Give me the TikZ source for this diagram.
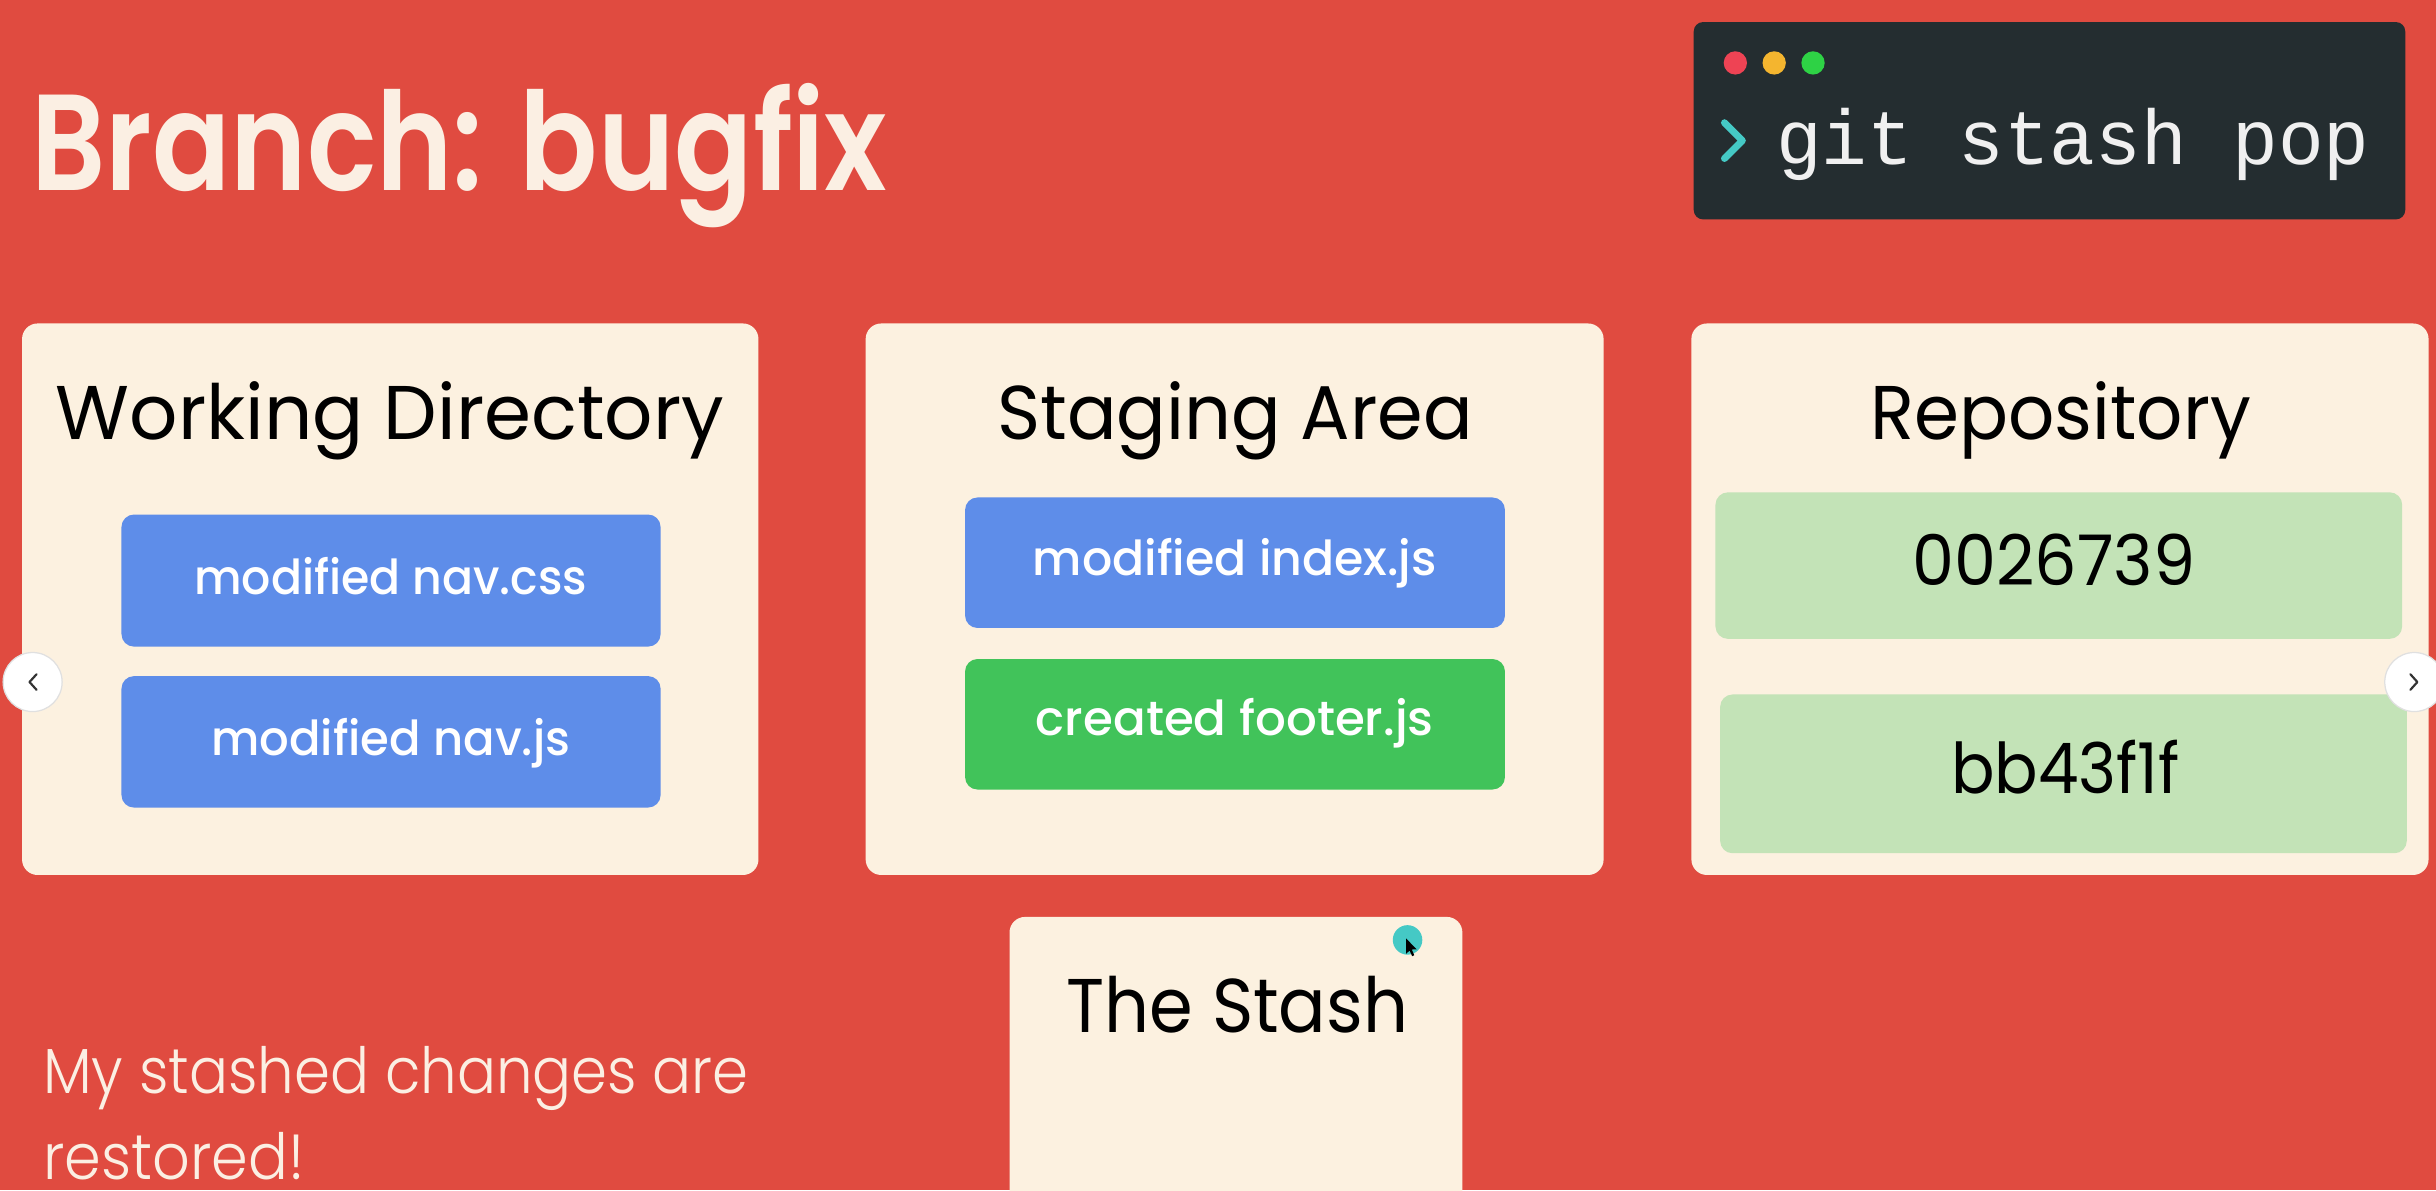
\documentclass[tikz,border=0pt]{standalone}
\usepackage{graphicx}
\usepackage{fontspec}
\setmainfont{Poppins}
\newfontfamily\pmed{Poppins Medium}
\newfontfamily\psemi{Poppins SemiBold}
\newfontfamily\plight{Poppins Light}
\newfontfamily\mono{Liberation Mono}

% squeeze a text horizontally to a given width, keeping its height
\newcommand\fitw[2]{\resizebox{#1}{\height}{#2}}

\definecolor{slidebg}{HTML}{E04B40}
\definecolor{cream}{HTML}{FCF1E0}
\definecolor{lighttext}{HTML}{FBEFE3}
\definecolor{fileblue}{HTML}{5E8DE9}
\definecolor{filegreen}{HTML}{41C35A}
\definecolor{commitgreen}{HTML}{C3E3B7}
\definecolor{termbg}{HTML}{242D30}
\definecolor{dotred}{HTML}{EE4354}
\definecolor{dotyellow}{HTML}{F4B52F}
\definecolor{dotgreen}{HTML}{2ED245}
\definecolor{teal}{HTML}{45C9C5}

\tikzset{
  panel/.style={rectangle, rounded corners=10pt, fill=cream, inner sep=0pt, anchor=north west},
  filebox/.style={rectangle, rounded corners=8pt, inner sep=0pt, anchor=north west},
  paneltitle/.style={anchor=base, inner sep=0pt, text=black, font=\fontsize{49}{58}\selectfont},
  filelabel/.style={anchor=base, inner sep=0pt, text=white, font=\pmed\fontsize{31}{37}\selectfont},
  commitlabel/.style={anchor=base, inner sep=0pt, text=black, font=\fontsize{45}{54}\selectfont},
  navbtn/.style={circle, fill=white, draw=black!12, line width=0.8pt, minimum size=38pt, inner sep=0pt},
  windot/.style={circle, inner sep=0pt, minimum size=15pt},
  notetext/.style={anchor=base west, inner sep=0pt, text=lighttext, font=\plight\fontsize{41}{49}\selectfont}
}

\begin{document}
\begin{tikzpicture}[x=1pt, y=-1pt]
  % slide background
  \fill[slidebg] (0,0) rectangle (1568,766);
  \useasboundingbox (0,0) rectangle (1568,766);
  \clip (0,0) rectangle (1568,766);

  % heading
  \node[anchor=base west, inner sep=0pt, text=lighttext, font=\psemi\fontsize{88}{100}\selectfont]
    (heading) at (20,122.3) {\fitw{551pt}{Branch: bugfix}};

  % terminal window with the command
  \node[rectangle, rounded corners=6pt, fill=termbg, anchor=north west, inner sep=0pt,
        minimum width=458pt, minimum height=127pt] (term) at (1090,14) {};
  \node[windot, fill=dotred]    (d1) at (1117,40.5) {};
  \node[windot, fill=dotyellow] (d2) at (1142,40.5) {};
  \node[windot, fill=dotgreen]  (d3) at (1167,40.5) {};
  \draw[teal, line width=4.5pt, line cap=round, line join=round]
    (1110,79) -- (1121.5,90.5) -- (1110,102);
  \node[anchor=base west, inner sep=0pt, text=white!94!black, font=\mono\fontsize{50}{60}\selectfont]
    (cmd) at (1143,106) {\fitw{382pt}{git stash pop}};

  % the three areas
  \node[panel, minimum width=474pt, minimum height=355pt] (wd) at (14,208) {};
  \node[panel, minimum width=475pt, minimum height=355pt] (sa) at (557,208) {};
  \node[panel, minimum width=474.5pt, minimum height=355pt] (repo) at (1088.5,208) {};

  \node[paneltitle] (wdtitle) at (251,283) {\fitw{430pt}{Working Directory}};
  \node[paneltitle] (satitle) at (795,283) {\fitw{306pt}{Staging Area}};
  \node[paneltitle] (repotitle) at (1326.5,283) {\fitw{245pt}{Repository}};

  % working directory files
  \node[filebox, fill=fileblue, minimum width=347pt, minimum height=85pt] (wd1) at (78,331) {};
  \node[filebox, fill=fileblue, minimum width=347pt, minimum height=84.6pt] (wd2) at (78,435) {};
  \node[filelabel] (wd1l) at (251.5,382.8) {\fitw{253pt}{modified nav.css}};
  \node[filelabel] (wd2l) at (251.5,486) {\fitw{231pt}{modified nav.js}};

  % staging area files
  \node[filebox, fill=fileblue, minimum width=347.5pt, minimum height=84pt] (sa1) at (621,320) {};
  \node[filebox, fill=filegreen, minimum width=347.5pt, minimum height=84pt] (sa2) at (621,424) {};
  \node[filelabel] (sa1l) at (794.8,370.4) {\fitw{260pt}{modified index.js}};
  \node[filelabel] (sa2l) at (794.8,473.7) {\fitw{256pt}{created footer.js}};

  % repository commits
  \node[filebox, fill=commitgreen, minimum width=442pt, minimum height=94.3pt] (c1) at (1104,316.7) {};
  \node[filebox, fill=commitgreen, minimum width=442pt, minimum height=102.2pt] (c2) at (1107,446.8) {};
  \node[commitlabel] (c1l) at (1322,377) {\fitw{182pt}{0026739}};
  \node[commitlabel] (c2l) at (1329.5,511) {\fitw{147pt}{bb43f1f}};

  % the stash
  \node[panel, minimum width=291.5pt, minimum height=260pt] (stash) at (649.6,590) {};
  \node[paneltitle] (stashtitle) at (796.5,664.7) {\fitw{220pt}{The Stash}};

  % pointer highlight
  \node[circle, fill=teal, minimum size=19pt, inner sep=0pt] (ptr) at (906,605) {};
  \fill[black] (905,604) -- (905,614) -- (907.3,611.8) -- (909,615.5) -- (910.3,614.8)
    -- (908.7,611.2) -- (911.8,611) -- cycle;

  % slide navigation buttons
  \node[navbtn] (prev) at (21,439) {};
  \draw[black!80, line width=1.4pt, line cap=round, line join=round]
    ([xshift=2.5pt,yshift=5pt]prev.center) -- ([xshift=-2pt]prev.center) -- ([xshift=2.5pt,yshift=-5pt]prev.center);
  \node[navbtn] (next) at (1554,439) {};
  \draw[black!80, line width=1.4pt, line cap=round, line join=round]
    ([xshift=-2.5pt,yshift=5pt]next.center) -- ([xshift=2pt]next.center) -- ([xshift=-2.5pt,yshift=-5pt]next.center);

  % caption
  \node[notetext] (note1) at (27.7,703.6) {\fitw{454pt}{My stashed changes are}};
  \node[notetext] (note2) at (27.7,759.5) {\fitw{168pt}{restored!}};
\end{tikzpicture}
\end{document}
